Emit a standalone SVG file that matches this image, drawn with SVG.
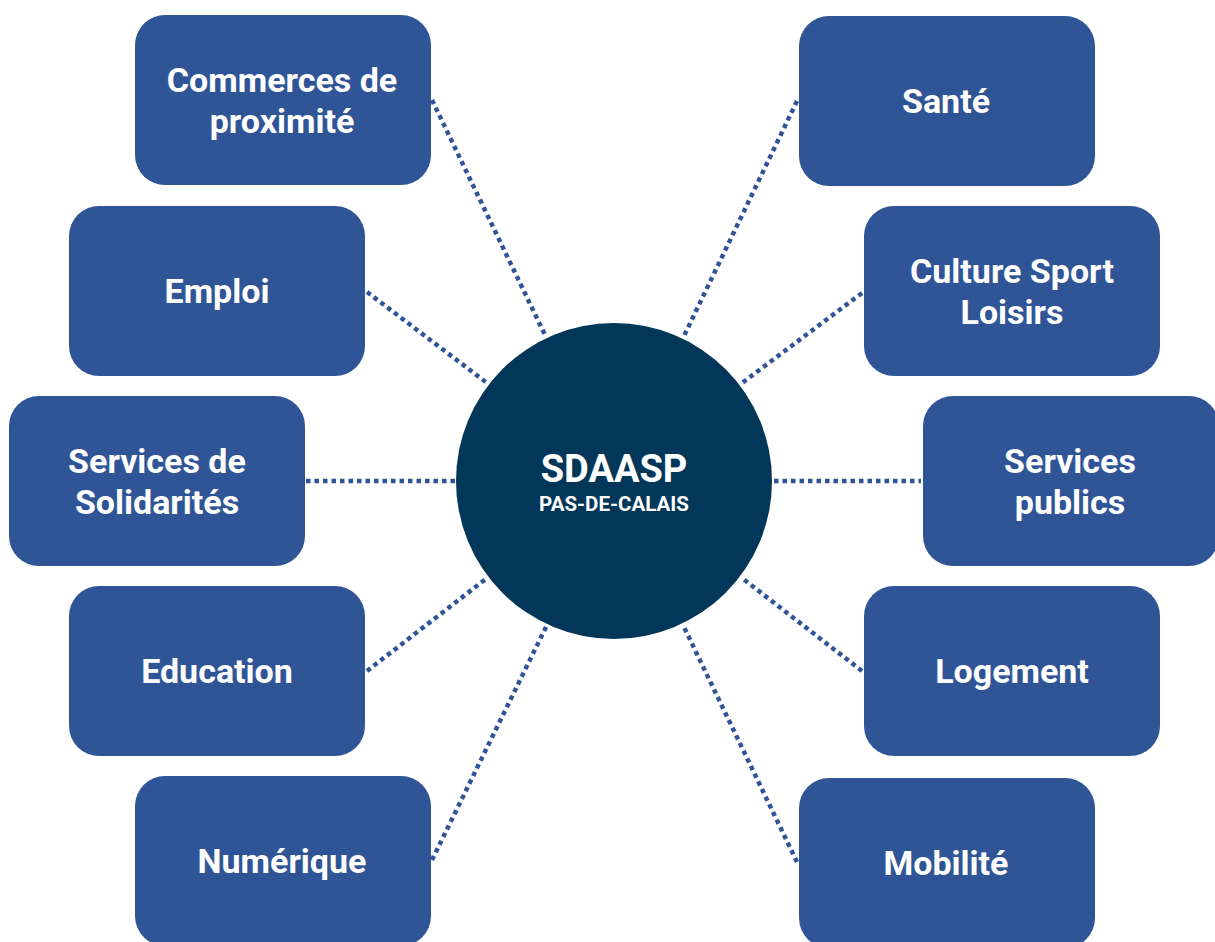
<svg xmlns="http://www.w3.org/2000/svg" width="1215" height="942" viewBox="0 0 1215 942">
<style>
.box{fill:#2f5597;}
.t{fill:#fff;font-family:Roboto,"Liberation Sans",sans-serif;font-weight:bold;font-size:34px;text-anchor:middle;}
.c{stroke:#2f5597;stroke-width:4.5;stroke-dasharray:4.5 4;fill:none;}
</style>
<rect width="1215" height="942" fill="#fff"/>
<g id="connectors">
<line class="c" x1="432" y1="100" x2="545" y2="335"/>
<line class="c" x1="367" y1="292" x2="487" y2="383"/>
<line class="c" x1="306" y1="481" x2="455" y2="481"/>
<line class="c" x1="367" y1="671" x2="487" y2="578"/>
<line class="c" x1="432" y1="860" x2="547" y2="625"/>
<line class="c" x1="797" y1="101" x2="683" y2="338"/>
<line class="c" x1="862" y1="293" x2="742" y2="383"/>
<line class="c" x1="774" y1="481" x2="921" y2="481"/>
<line class="c" x1="862" y1="671" x2="742" y2="578"/>
<line class="c" x1="797" y1="862" x2="683" y2="625"/>
</g>
<g id="center">
<circle cx="614" cy="481" r="158" fill="#033759"/>
<text x="614" y="482" class="t" style="font-size:38px">SDAASP</text>
<text x="614" y="511" class="t" style="font-size:20.5px">PAS-DE-CALAIS</text>
</g>
<g id="commerces"><rect class="box" x="135" y="15" width="296" height="170" rx="30"/><text class="t" x="282" y="92">Commerces de</text><text class="t" x="282" y="133">proximité</text></g>
<g id="emploi"><rect class="box" x="69" y="206" width="296" height="170" rx="30"/><text class="t" x="217" y="303">Emploi</text></g>
<g id="solidarites"><rect class="box" x="9" y="396" width="296" height="170" rx="30"/><text class="t" x="157" y="473">Services de</text><text class="t" x="157" y="514">Solidarités</text></g>
<g id="education"><rect class="box" x="69" y="586" width="296" height="170" rx="30"/><text class="t" x="217" y="683">Education</text></g>
<g id="numerique"><rect class="box" x="135" y="776" width="296" height="170" rx="30"/><text class="t" x="282" y="873">Numérique</text></g>
<g id="sante"><rect class="box" x="799" y="16" width="296" height="170" rx="30"/><text class="t" x="946" y="113">Santé</text></g>
<g id="culture"><rect class="box" x="864" y="206" width="296" height="170" rx="30"/><text class="t" x="1012" y="283">Culture Sport</text><text class="t" x="1012" y="324">Loisirs</text></g>
<g id="services-publics"><rect class="box" x="923" y="396" width="296" height="170" rx="30"/><text class="t" x="1070" y="473">Services</text><text class="t" x="1070" y="514">publics</text></g>
<g id="logement"><rect class="box" x="864" y="586" width="296" height="170" rx="30"/><text class="t" x="1012" y="683">Logement</text></g>
<g id="mobilite"><rect class="box" x="799" y="778" width="296" height="170" rx="30"/><text class="t" x="946" y="875">Mobilité</text></g>
</svg>
